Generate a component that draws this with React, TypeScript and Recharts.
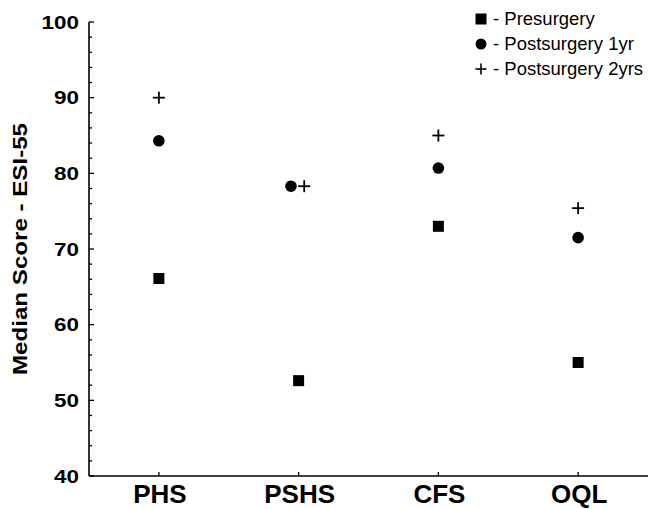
import React from 'react'
import { ScatterChart, Scatter, XAxis, YAxis } from 'recharts'

// Median ESI-55 scores per scale
const categories = ['PHS', 'PSHS', 'CFS', 'OQL']
const presurgery = [66.1, 52.6, 73.0, 55.0]
const postsurgery1yr = [84.3, 78.3, 80.7, 71.5]
const postsurgery2yrs = [90.0, 78.3, 85.0, 75.4]
// small horizontal nudges where markers overlap (in category units)
const nudge1yr = [0, -0.055, 0, 0]
const nudge2yrs = [0, 0.04, 0, 0]
const yTicks = [40, 42, 44, 46, 48, 50, 52, 54, 56, 58, 60, 62, 64, 66, 68, 70, 72, 74, 76, 78, 80, 82, 84, 86, 88, 90, 92, 94, 96, 98, 100]

const FONT = '"Liberation Sans", Arial, Helvetica, sans-serif'

const toPoints = (values: number[], nudge?: number[]) =>
  values.map((v, i) => ({ x: i + 1 + (nudge ? nudge[i] : 0), y: v, name: categories[i] }))

const SquareShape = (props: any) => {
  const { cx, cy } = props
  return <rect x={cx - 5.5} y={cy - 5.5} width={11} height={11} fill="#000" />
}

const CircleShape = (props: any) => {
  const { cx, cy } = props
  return <circle cx={cx} cy={cy} r={5.8} fill="#000" />
}

const PlusShape = (props: any) => {
  const { cx, cy } = props
  return (
    <g stroke="#000" strokeWidth={1.8}>
      <line x1={cx - 6} y1={cy} x2={cx + 6} y2={cy} />
      <line x1={cx} y1={cy - 6} x2={cx} y2={cy + 6} />
    </g>
  )
}

const YTick = (props: any) => {
  const { x, y, payload } = props
  const major = payload.value % 10 === 0
  return (
    <g>
      <line x1={x} y1={y} x2={x + (major ? 5 : 3)} y2={y} stroke="#000" strokeWidth={1.3} />
      {major && (
        <text
          transform={`translate(${x - 10},${y + 6.8}) scale(1.18,1)`}
          textAnchor="end"
          fontFamily={FONT}
          fontWeight="bold"
          fontSize={19}
          fill="#000"
        >
          {payload.value}
        </text>
      )}
    </g>
  )
}

const XTick = (props: any) => {
  const { x, y, payload } = props
  return (
    <g>
      <line x1={x} y1={y} x2={x} y2={y - 4} stroke="#000" strokeWidth={1.3} />
      <text
        transform={`translate(${x + 1},${y + 27}) scale(1.04,1)`}
        textAnchor="middle"
        fontFamily={FONT}
        fontWeight="bold"
        fontSize={25}
        fill="#000"
      >
        {categories[payload.value - 1]}
      </text>
    </g>
  )
}

const legendItems = [
  { label: '- Presurgery', icon: 'square' },
  { label: '- Postsurgery 1yr', icon: 'circle' },
  { label: '- Postsurgery 2yrs', icon: 'plus' },
]

const ChartLegend = () => (
  <div
    style={{
      position: 'absolute',
      left: 474,
      top: 6,
      fontFamily: FONT,
      fontSize: 18.5,
      color: '#000',
      whiteSpace: 'nowrap',
    }}
  >
    {legendItems.map(item => (
      <div key={item.label} style={{ display: 'flex', alignItems: 'center', height: 25 }}>
        <svg width={14} height={14} style={{ marginRight: 5 }}>
          {item.icon === 'square' && <rect x={1.5} y={1.5} width={11} height={11} fill="#000" />}
          {item.icon === 'circle' && <circle cx={7} cy={7} r={5.5} fill="#000" />}
          {item.icon === 'plus' && (
            <g stroke="#000" strokeWidth={1.6}>
              <line x1={1.5} y1={7} x2={12.5} y2={7} />
              <line x1={7} y1={1.5} x2={7} y2={12.5} />
            </g>
          )}
        </svg>
        <span>{item.label}</span>
      </div>
    ))}
  </div>
)

export default function App() {
  return (
    <div style={{ position: 'absolute', left: 0, top: 0, width: 648, height: 509, background: '#fff' }}>
      <ScatterChart width={648} height={509} margin={{ top: 22, right: 0, bottom: 0, left: 0 }}>
        <XAxis
          type="number"
          dataKey="x"
          domain={[0.5, 4.5]}
          ticks={[1, 2, 3, 4]}
          height={33}
          tickSize={0}
          tickMargin={0}
          tickLine={false}
          axisLine={{ stroke: '#000', strokeWidth: 1.6 }}
          tick={<XTick />}
          interval={0}
        />
        <YAxis
          type="number"
          dataKey="y"
          domain={[40, 100]}
          ticks={yTicks}
          width={89}
          tickSize={0}
          tickMargin={0}
          tickLine={false}
          axisLine={{ stroke: '#000', strokeWidth: 1.6 }}
          tick={<YTick />}
          interval={0}
          label={{
            content: ({ viewBox }: any) => {
              const bx = viewBox.x + 27
              const by = viewBox.y + viewBox.height / 2
              return (
                <text
                  transform={`translate(${bx},${by}) rotate(-90)`}
                  textAnchor="middle"
                  fontFamily={FONT}
                  fontWeight="bold"
                  fontSize={21}
                  textLength={252}
                  lengthAdjust="spacingAndGlyphs"
                  fill="#000"
                >
                  Median Score - ESI-55
                </text>
              )
            },
          }}
        />
        <Scatter name="Presurgery" data={toPoints(presurgery)} shape={<SquareShape />} isAnimationActive={false} />
        <Scatter name="Postsurgery 1yr" data={toPoints(postsurgery1yr, nudge1yr)} shape={<CircleShape />} isAnimationActive={false} />
        <Scatter name="Postsurgery 2yrs" data={toPoints(postsurgery2yrs, nudge2yrs)} shape={<PlusShape />} isAnimationActive={false} />
      </ScatterChart>
      <ChartLegend />
    </div>
  )
}
